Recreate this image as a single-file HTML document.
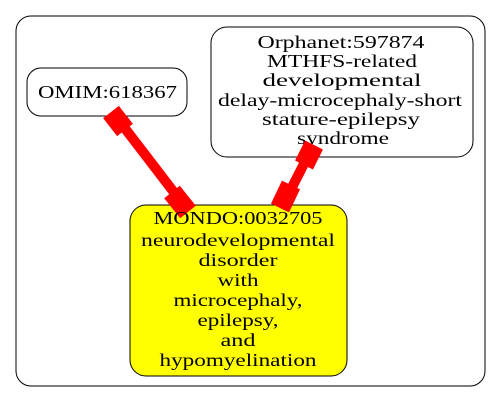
<!DOCTYPE html>
<html><head><style>html,body{margin:0;padding:0;background:#fff}</style></head><body>
<svg width="501" height="403" viewBox="0 0 501 403" xmlns="http://www.w3.org/2000/svg" font-family="'Liberation Serif', serif" font-size="17.5" text-anchor="middle">
<rect x="16" y="16" width="469" height="370" rx="15" fill="#fff" stroke="#000"/>
<rect x="27" y="68" width="160" height="48" rx="14" fill="#fff" stroke="#000"/>
<text x="107.5" y="98" textLength="139" lengthAdjust="spacingAndGlyphs">OMIM:618367</text>
<rect x="211" y="27" width="262" height="130" rx="16" fill="#fff" stroke="#000"/>
<g>
<text x="341" y="48" textLength="167" lengthAdjust="spacingAndGlyphs">Orphanet:597874</text>
<text x="342" y="67" textLength="150" lengthAdjust="spacingAndGlyphs">MTHFS-related</text>
<text x="342" y="86" textLength="159" lengthAdjust="spacingAndGlyphs">developmental</text>
<text x="340" y="106" textLength="244" lengthAdjust="spacingAndGlyphs">delay-microcephaly-short</text>
<text x="341" y="125" textLength="158" lengthAdjust="spacingAndGlyphs">stature-epilepsy</text>
<text x="343" y="144" textLength="92" lengthAdjust="spacingAndGlyphs">syndrome</text>
</g>
<rect x="130" y="205" width="217" height="171" rx="16" fill="#ff0" stroke="#000"/>
<g stroke="#f00" fill="none">
<line x1="117" y1="118" x2="186" y2="208" stroke-width="10"/>
<line x1="111" y1="112" x2="125" y2="130" stroke-width="20"/>
<line x1="172" y1="192" x2="188" y2="212" stroke-width="20"/>
<line x1="311" y1="150" x2="282" y2="207" stroke-width="10"/>
<line x1="314" y1="145" x2="304" y2="165" stroke-width="20"/>
<line x1="291" y1="185" x2="280" y2="208" stroke-width="20"/>
</g>
<g>
<text x="238" y="224" textLength="169" lengthAdjust="spacingAndGlyphs">MONDO:0032705</text>
<text x="238" y="246" textLength="194" lengthAdjust="spacingAndGlyphs">neurodevelopmental</text>
<text x="238" y="266" textLength="79" lengthAdjust="spacingAndGlyphs">disorder</text>
<text x="238" y="286" textLength="41" lengthAdjust="spacingAndGlyphs">with</text>
<text x="238" y="306" textLength="129" lengthAdjust="spacingAndGlyphs">microcephaly,</text>
<text x="238" y="326" textLength="81" lengthAdjust="spacingAndGlyphs">epilepsy,</text>
<text x="238" y="346" textLength="35" lengthAdjust="spacingAndGlyphs">and</text>
<text x="238" y="366" textLength="157" lengthAdjust="spacingAndGlyphs">hypomyelination</text>
</g>
</svg>
</body></html>
